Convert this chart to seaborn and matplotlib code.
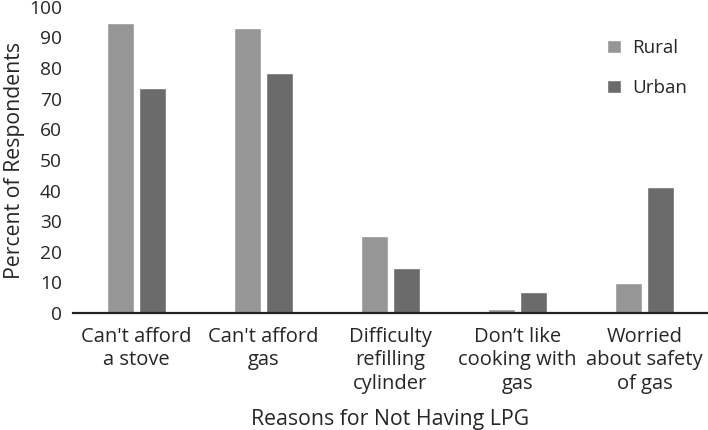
import matplotlib
matplotlib.use("Agg")
import matplotlib.pyplot as plt
import seaborn as sns
import pandas as pd

categories = ["Can't afford\na stove", "Can't afford\ngas", "Difficulty\nrefilling\ncylinder",
              "Don\u2019t like\ncooking with\ngas", "Worried\nabout safety\nof gas"]
rural = [94.7, 93.2, 25.0, 1.2, 9.8]
urban = [73.5, 78.4, 14.7, 6.9, 41.1]
series = ["Rural", "Urban"]
colors = ["#969696", "#6b6b6b"]
yticks = [0, 10, 20, 30, 40, 50, 60, 70, 80, 90, 100]

df = pd.DataFrame({
    "cat": categories * 2,
    "val": rural + urban,
    "grp": ["Rural"] * len(categories) + ["Urban"] * len(categories),
})

sns.set_style("white")
plt.rcParams['font.family'] = ['Open Sans', 'DejaVu Sans']

fig = plt.figure(figsize=(7.08, 4.30), dpi=100)
ax = fig.add_axes([0.103, 0.272, 0.897, 0.712])
sns.barplot(data=df, x="cat", y="val", hue="grp", hue_order=series,
            palette=colors, width=0.5, gap=0.14, ax=ax, saturation=1)
ax.set_ylim(0, 100)
ax.set_xlim(-0.5, 4.5)
ax.set_yticks(yticks)
ax.tick_params(axis='y', labelsize=13.8, length=0, pad=8)
ax.tick_params(axis='x', labelsize=14.5, length=0, pad=10)
for lab in ax.get_xticklabels():
    lab.set_linespacing(1.22)
for s in ["top", "right", "left"]:
    ax.spines[s].set_visible(False)
ax.spines["bottom"].set_color("#222222")
ax.spines["bottom"].set_linewidth(1.6)
ax.set_xlabel("Reasons for Not Having LPG", fontsize=15.3, labelpad=11)
ax.set_ylabel("Percent of Respondents", fontsize=15.3, labelpad=3)
ax.legend(frameon=False, loc="upper left", bbox_to_anchor=(0.815, 0.95),
          fontsize=13.5, handlelength=0.7, handleheight=0.7, labelspacing=1.15,
          handletextpad=0.6)
fig.savefig("out.png", dpi=100)
